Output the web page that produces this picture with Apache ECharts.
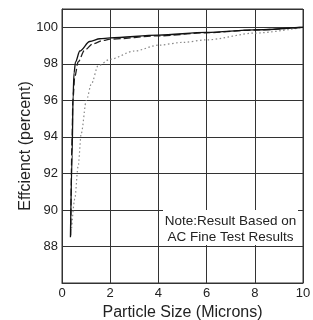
<!DOCTYPE html>
<html>
<head>
<meta charset="utf-8">
<script src="https://cdn.jsdelivr.net/npm/echarts@6/dist/echarts.min.js"></script>
<style>
  html, body { margin: 0; padding: 0; background: #fff; }
  #chart { width: 313px; height: 320px; }
</style>
</head>
<body>
<div id="chart"></div>
<script>
// efficiency curves: [particle size, efficiency]
var solidCurve = [
    [0.35, 88.5], [0.42, 93.0], [0.46, 96.3], [0.50, 97.5], [0.56, 98.1],
    [0.74, 98.7], [1.15, 99.22], [1.57, 99.37], [2, 99.42], [4, 99.57],
    [6, 99.72], [8, 99.86], [10, 100]
];
var dashedCurve = [
    [0.36, 88.6], [0.42, 94.0], [0.45, 96.0], [0.53, 97.3], [0.67, 98.1],
    [0.94, 98.75], [1.29, 99.1], [1.7, 99.28], [2, 99.35], [4, 99.53],
    [6, 99.7], [8, 99.85], [10, 100]
];
var dottedCurve = [
    [0.40, 89.0], [0.53, 90.6], [0.67, 92.4], [0.80, 94.2], [1.01, 96.0],
    [1.22, 96.9], [1.5, 97.9], [2, 98.25], [3, 98.7], [4, 99.02],
    [5, 99.17], [6, 99.31], [8, 99.68], [10, 100]
];
var noteLines = ['Note:Result Based on', 'AC Fine Test Results'];

var dom = document.getElementById('chart');
var myChart = echarts.init(dom, null, { renderer: 'canvas' });

var gridLine = { show: true, lineStyle: { color: '#333', width: 1 } };
var labelFont = { color: '#222', fontSize: 13, fontFamily: 'Liberation Sans' };

var option = {
    animation: false,
    grid: {
        left: 62, right: 10, top: 9, bottom: 37,
        outerBoundsMode: 'none',
        show: true, borderColor: '#333', borderWidth: 1
    },
    xAxis: {
        type: 'value',
        min: 0, max: 10, interval: 2,
        name: 'Particle Size (Microns)',
        nameLocation: 'middle',
        nameGap: 22,
        nameMoveOverlap: false,
        nameTextStyle: { color: '#222', fontSize: 16, fontFamily: 'Liberation Sans' },
        axisLine: { show: true, lineStyle: { color: '#333' } },
        axisTick: { show: false },
        axisLabel: Object.assign({ margin: 4 }, labelFont),
        splitLine: gridLine
    },
    yAxis: {
        type: 'value',
        min: 86, max: 101, interval: 2,
        name: 'Effcienct (percent)',
        nameLocation: 'middle',
        nameGap: 28,
        nameMoveOverlap: false,
        nameTextStyle: { color: '#222', fontSize: 16, fontFamily: 'Liberation Sans' },
        axisLine: { show: true, lineStyle: { color: '#333' } },
        axisTick: { show: false },
        axisLabel: Object.assign({
            margin: 4,
            formatter: function (v) { return (v === 86 || v === 101) ? '' : v; }
        }, labelFont),
        splitLine: gridLine
    },
    series: [
        {
            type: 'line', data: dottedCurve, showSymbol: false,
            smooth: 0.3, smoothMonotone: 'x',
            lineStyle: { color: '#888', width: 1.2, type: [1.5, 2.5] }
        },
        {
            type: 'line', data: dashedCurve, showSymbol: false,
            smooth: 0.3, smoothMonotone: 'x',
            lineStyle: { color: '#222', width: 1.3, type: [7, 3] }
        },
        {
            type: 'line', data: solidCurve, showSymbol: false,
            smooth: 0.3, smoothMonotone: 'x',
            lineStyle: { color: '#111', width: 1.3 }
        }
    ],
    graphic: [
        {
            type: 'rect', z: 100,
            shape: { x: 163, y: 210, width: 135, height: 35 },
            style: { fill: '#fff' }
        },
        {
            type: 'text', z: 101,
            x: 230.5, y: 229,
            style: {
                text: noteLines.join('\n'),
                fontSize: 13.5, lineHeight: 16,
                fontFamily: 'Liberation Sans',
                fill: '#222',
                align: 'center', verticalAlign: 'middle'
            }
        }
    ]
};

myChart.setOption(option, true);
</script>
</body>
</html>
